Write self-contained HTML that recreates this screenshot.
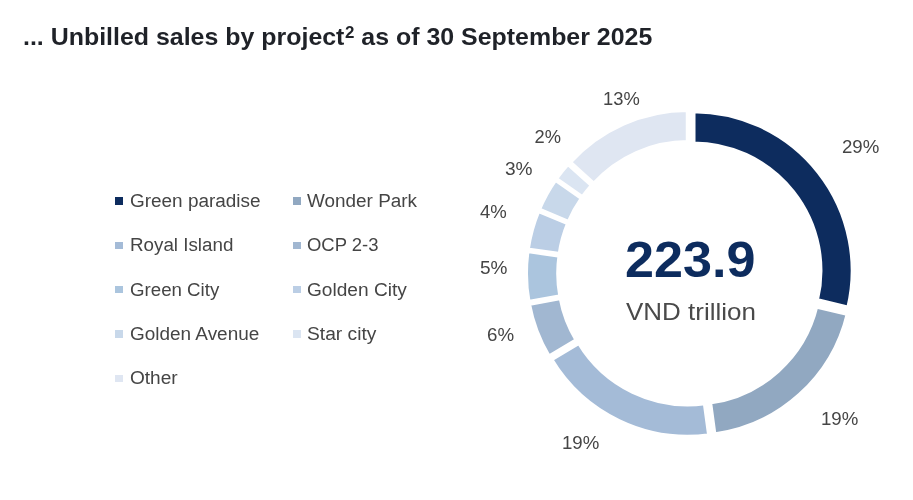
<!DOCTYPE html>
<html lang="en">
<head>
<meta charset="utf-8">
<title>Unbilled sales by project</title>
<style>
html,body{margin:0;padding:0;background:#fff;}
body{width:913px;height:500px;position:relative;overflow:hidden;font-family:"Liberation Sans",sans-serif;}
.t{position:absolute;white-space:nowrap;line-height:1;transform-origin:0 0;}
.t sup{font-size:68%;line-height:0;vertical-align:baseline;position:relative;top:-0.44em;margin-left:0.5px;}
.m{position:absolute;width:7.8px;height:7.4px;}
svg{position:absolute;left:0;top:0;}
</style>
</head>
<body>
<svg width="913" height="500" viewBox="0 0 913 500">
<g stroke="#fff" stroke-width="4.5" stroke-linejoin="miter">
<path d="M693.26 110.93A159.65 159.65 0 0 1 848.47 307.94L816.68 300.29A126.95 126.95 0 0 0 693.26 143.63Z" fill="#0d2c5e"/>
<path d="M847.97 313.93A159.65 159.65 0 0 1 714.25 434.76L709.85 402.36A126.95 126.95 0 0 0 816.17 306.28Z" fill="#91a8c1"/>
<path d="M709.40 435.46A159.65 159.65 0 0 1 550.99 359.40L579.03 342.57A126.95 126.95 0 0 0 704.99 403.06Z" fill="#a4bbd7"/>
<path d="M548.78 356.99A159.65 159.65 0 0 1 528.68 303.78L560.84 297.86A126.95 126.95 0 0 0 576.82 340.16Z" fill="#a1b7d1"/>
<path d="M528.39 302.32A159.65 159.65 0 0 1 527.34 250.89L559.72 255.50A126.95 126.95 0 0 0 560.55 296.39Z" fill="#abc5de"/>
<path d="M527.50 249.64A159.65 159.65 0 0 1 538.25 210.57L568.42 223.18A126.95 126.95 0 0 0 559.87 254.24Z" fill="#bbcee5"/>
<path d="M538.64 209.62A159.65 159.65 0 0 1 555.33 179.37L582.08 198.18A126.95 126.95 0 0 0 568.81 222.22Z" fill="#c8d8ea"/>
<path d="M555.74 178.75A159.65 159.65 0 0 1 567.94 163.48L592.20 185.41A126.95 126.95 0 0 0 582.50 197.56Z" fill="#dbe5f2"/>
<path d="M569.60 162.20A159.65 159.65 0 0 1 688.01 109.63L688.01 142.33A126.95 126.95 0 0 0 593.85 184.13Z" fill="#dfe6f2"/>
</g>
</svg>
<div class="m" style="left:115.2px;top:197.3px;background:#0d2c5e"></div>
<div class="m" style="left:293.1px;top:197.3px;background:#91a8c1"></div>
<div class="m" style="left:115.2px;top:241.7px;background:#a4bbd7"></div>
<div class="m" style="left:293.1px;top:241.7px;background:#a1b7d1"></div>
<div class="m" style="left:115.2px;top:286.0px;background:#abc5de"></div>
<div class="m" style="left:293.1px;top:286.0px;background:#bbcee5"></div>
<div class="m" style="left:115.2px;top:330.4px;background:#c8d8ea"></div>
<div class="m" style="left:293.1px;top:330.4px;background:#dbe5f2"></div>
<div class="m" style="left:115.2px;top:374.8px;background:#dfe6f2"></div>
<div class="t" style="left:23.17px;top:25.90px;font-size:23.4px;font-weight:bold;color:#1f2228;transform:scaleX(1.0658)">... Unbilled sales by project<sup>2</sup> as of 30 September 2025</div>
<div class="t" style="left:129.85px;top:191.90px;font-size:18.0px;font-weight:normal;color:#454545;transform:scaleX(1.0525)">Green paradise</div>
<div class="t" style="left:129.96px;top:236.30px;font-size:18.0px;font-weight:normal;color:#454545;transform:scaleX(1.0433)">Royal Island</div>
<div class="t" style="left:129.76px;top:280.60px;font-size:18.0px;font-weight:normal;color:#454545;transform:scaleX(1.0376)">Green City</div>
<div class="t" style="left:129.75px;top:325.00px;font-size:18.0px;font-weight:normal;color:#454545;transform:scaleX(1.0529)">Golden Avenue</div>
<div class="t" style="left:129.74px;top:369.30px;font-size:18.0px;font-weight:normal;color:#454545;transform:scaleX(1.0591)">Other</div>
<div class="t" style="left:307.20px;top:191.90px;font-size:18.0px;font-weight:normal;color:#454545;transform:scaleX(1.0510)">Wonder Park</div>
<div class="t" style="left:306.98px;top:236.30px;font-size:18.0px;font-weight:normal;color:#454545;transform:scaleX(1.0250)">OCP 2-3</div>
<div class="t" style="left:306.94px;top:280.60px;font-size:18.0px;font-weight:normal;color:#454545;transform:scaleX(1.0613)">Golden City</div>
<div class="t" style="left:306.73px;top:325.00px;font-size:18.0px;font-weight:normal;color:#454545;transform:scaleX(1.0672)">Star city</div>
<div class="t" style="left:603.40px;top:90.00px;font-size:18.3px;font-weight:normal;color:#454545;transform:scaleX(1.0029)">13%</div>
<div class="t" style="left:534.60px;top:128.30px;font-size:18.3px;font-weight:normal;color:#454545;transform:scaleX(1.0000)">2%</div>
<div class="t" style="left:504.96px;top:160.40px;font-size:18.3px;font-weight:normal;color:#454545;transform:scaleX(1.0440)">3%</div>
<div class="t" style="left:479.60px;top:203.30px;font-size:18.3px;font-weight:normal;color:#454545;transform:scaleX(1.0154)">4%</div>
<div class="t" style="left:479.96px;top:258.90px;font-size:18.3px;font-weight:normal;color:#454545;transform:scaleX(1.0400)">5%</div>
<div class="t" style="left:487.38px;top:325.70px;font-size:18.3px;font-weight:normal;color:#454545;transform:scaleX(1.0240)">6%</div>
<div class="t" style="left:561.58px;top:434.00px;font-size:18.3px;font-weight:normal;color:#454545;transform:scaleX(1.0200)">19%</div>
<div class="t" style="left:820.68px;top:410.30px;font-size:18.3px;font-weight:normal;color:#454545;transform:scaleX(1.0200)">19%</div>
<div class="t" style="left:841.78px;top:138.10px;font-size:18.3px;font-weight:normal;color:#454545;transform:scaleX(1.0200)">29%</div>
<div class="t" style="left:624.84px;top:235.10px;font-size:50.6px;font-weight:bold;color:#0d2c5e;transform:scaleX(1.0301)">223.9</div>
<div class="t" style="left:625.90px;top:300.90px;font-size:23.6px;font-weight:normal;color:#4a4a4a;transform:scaleX(1.1009)">VND trillion</div>
</body>
</html>
